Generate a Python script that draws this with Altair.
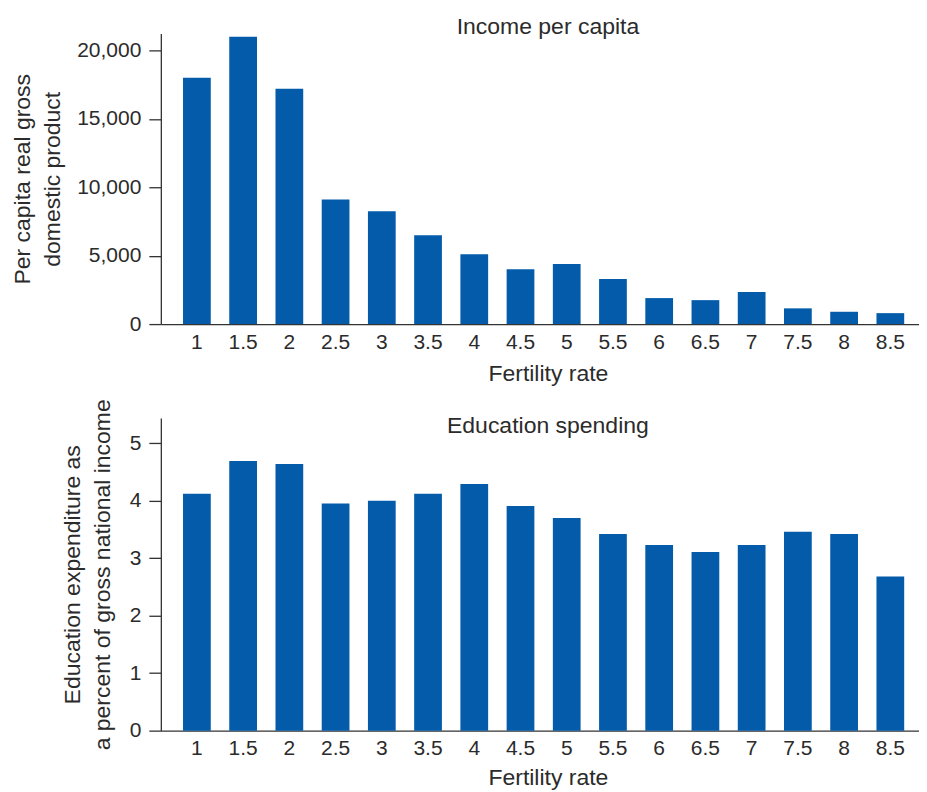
import altair as alt
import pandas as pd

rates = ["1", "1.5", "2", "2.5", "3", "3.5", "4", "4.5", "5", "5.5", "6", "6.5", "7", "7.5", "8", "8.5"]
gdp = [18000, 21000, 17200, 9100, 8250, 6500, 5100, 4000, 4400, 3300, 1900, 1750, 2350, 1150, 900, 800]
edu = [4.12, 4.69, 4.64, 3.95, 4.00, 4.12, 4.29, 3.91, 3.70, 3.42, 3.23, 3.11, 3.23, 3.46, 3.42, 2.68]

df_gdp = pd.DataFrame({"rate": rates, "value": gdp})
df_edu = pd.DataFrame({"rate": rates, "value": edu})

FONT = "Liberation Sans"
TXT = "#2b2b2b"
BAR = "#035BAA"
W = 759

xscale = alt.Scale(paddingInner=0.4, paddingOuter=0.4, align=0.6)


def xaxis(tp):
    return alt.Axis(labelAngle=0, ticks=False, labelPadding=7, title="Fertility rate",
                    titlePadding=tp, titleX=W / 2 + 8, grid=False)


top = alt.Chart(df_gdp).mark_bar(color=BAR).encode(
    x=alt.X("rate:O", sort=rates, scale=xscale, axis=xaxis(10)),
    y=alt.Y("value:Q", scale=alt.Scale(domain=[0, 21250], nice=False),
            axis=alt.Axis(values=[0, 5000, 10000, 15000, 20000], format=",d",
                          title=["Per capita real gross", "domestic product"],
                          titlePadding=12, grid=False)),
).properties(
    width=W, height=291,
    title=alt.TitleParams("Income per capita", offset=-6, dx=8),
)

bottom = alt.Chart(df_edu).mark_bar(color=BAR).encode(
    x=alt.X("rate:O", sort=rates, scale=xscale, axis=xaxis(8)),
    y=alt.Y("value:Q", scale=alt.Scale(domain=[0, 5.44], nice=False),
            axis=alt.Axis(values=[0, 1, 2, 3, 4, 5], format="d",
                          title=["Education expenditure as", "a percent of gross national income"],
                          titlePadding=15, grid=False)),
).properties(
    width=W, height=313,
    title=alt.TitleParams("Education spending", offset=-39, dx=8),
)

chart = alt.vconcat(top, bottom, spacing=13).properties(
    padding={"left": 3, "top": 8, "right": 0, "bottom": 0}
).configure_view(stroke=None).configure_axis(
    labelFont=FONT, labelFontSize=21, labelColor=TXT,
    titleFont=FONT, titleFontSize=23, titleFontWeight="normal", titleColor=TXT,
    titleLineHeight=30,
    domainColor="#333333", tickColor="#333333", domainWidth=1.3, tickWidth=1.3,
    tickSize=12, labelPadding=8,
).configure_title(
    font=FONT, fontSize=23, fontWeight="normal", color=TXT, anchor="middle",
)

chart.save("out.html", embed_options={"renderer": "svg", "actions": False})
